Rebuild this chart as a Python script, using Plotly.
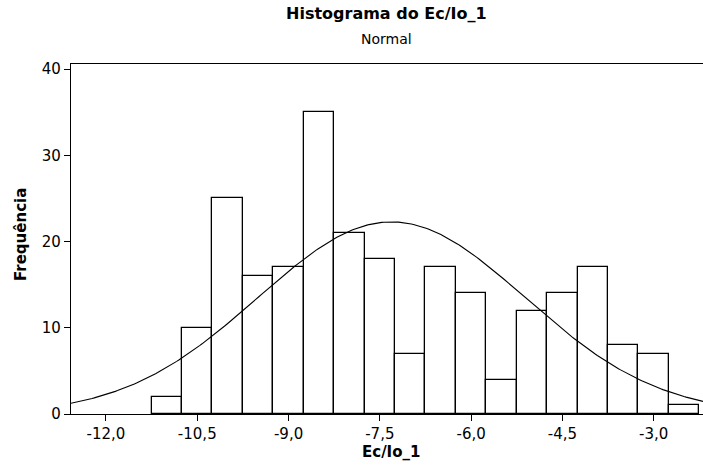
import numpy as np
import plotly.graph_objects as go

# Data
bin_centers = [-11.0, -10.5, -10.0, -9.5, -9.0, -8.5, -8.0, -7.5, -7.0,
               -6.5, -6.0, -5.5, -5.0, -4.5, -4.0, -3.5, -3.0, -2.5]
counts = [2, 10, 25, 16, 17, 35, 21, 18, 7, 17, 14, 4, 12, 14, 17, 8, 7, 1]
bin_width = 0.5

x_tick_vals = [-12.0, -10.5, -9.0, -7.5, -6.0, -4.5, -3.0]
x_tick_text = ["-12,0", "-10,5", "-9,0", "-7,5", "-6,0", "-4,5", "-3,0"]
y_tick_vals = [0, 10, 20, 30, 40]

title_text = "Histograma do Ec/Io_1"
subtitle_text = "Normal"
x_title = "Ec/Io_1"
y_title = "Frequência"

x_range = [-12.575, -2.19]
y_range = [0, 40.58]

# Normal fit from the binned data
c = np.array(bin_centers)
n = np.array(counts)
N = n.sum()
mu = (c * n).sum() / N
sigma = np.sqrt(((c - mu) ** 2 * n).sum() / (N - 1))
xs = np.linspace(x_range[0], x_range[1], 300)
ys = N * bin_width * np.exp(-0.5 * ((xs - mu) / sigma) ** 2) / (sigma * np.sqrt(2 * np.pi))

W, H = 703, 466
ml, mr, mt, mb = 71, 0, 64, 52

fig = go.Figure()
fig.add_trace(go.Bar(x=bin_centers, y=counts, width=bin_width,
                     marker=dict(color="white", line=dict(color="black", width=1.3)),
                     showlegend=False, hoverinfo="skip"))
fig.add_trace(go.Scatter(x=xs, y=ys, mode="lines",
                         line=dict(color="black", width=1.1),
                         showlegend=False, hoverinfo="skip"))

font = "DejaVu Sans"
fig.update_layout(
    width=W, height=H,
    margin=dict(l=ml, r=mr, t=mt, b=mb, pad=0),
    paper_bgcolor="white", plot_bgcolor="white",
    font=dict(family=font, size=15, color="black"),
    bargap=0,
    xaxis=dict(range=x_range, tickvals=x_tick_vals, ticktext=x_tick_text,
               showgrid=False, zeroline=False, showline=True, mirror=True,
               linecolor="black", linewidth=1.3, ticks="outside", ticklen=6,
               tickwidth=1, tickcolor="black", tickfont=dict(size=15)),
    yaxis=dict(range=y_range, tickvals=y_tick_vals, showgrid=False, zeroline=False,
               showline=True, linecolor="black", linewidth=1.3, ticks="outside",
               ticklen=6, tickwidth=1, tickcolor="black", tickfont=dict(size=15)),
)

pw = W - ml - mr
ph = H - mt - mb
def px(xp):
    return (xp - ml) / pw
def py(yp):
    return (H - mb - yp) / ph

fig.add_annotation(text="<b>" + title_text + "</b>", x=px(386), y=py(13), xref="paper", yref="paper",
                   showarrow=False, xanchor="center", yanchor="middle",
                   font=dict(family=font, size=16, color="black"))
fig.add_annotation(text=subtitle_text, x=px(386), y=py(39), xref="paper", yref="paper",
                   showarrow=False, xanchor="center", yanchor="middle",
                   font=dict(family=font, size=14, color="black"))
fig.add_annotation(text="<b>" + x_title + "</b>", x=px(391), y=py(452), xref="paper", yref="paper",
                   showarrow=False, xanchor="center", yanchor="middle",
                   font=dict(family=font, size=15, color="black"))
fig.add_annotation(text="<b>" + y_title + "</b>", x=px(21), y=py(235), xref="paper", yref="paper",
                   showarrow=False, xanchor="center", yanchor="middle", textangle=-90,
                   font=dict(family=font, size=15, color="black"))

fig.write_html("out.html", config={"displayModeBar": False},
               post_script="document.body.style.margin='0';document.body.style.overflow='hidden';")
